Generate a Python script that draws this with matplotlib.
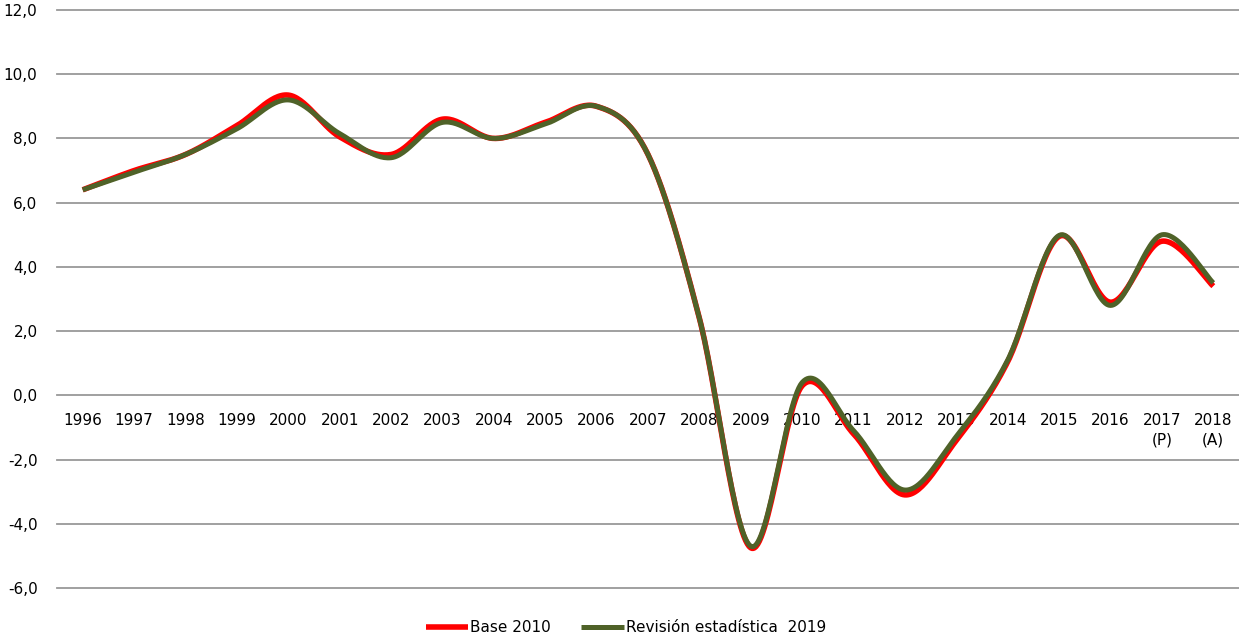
import matplotlib
matplotlib.use("Agg")
import matplotlib.pyplot as plt
import numpy as np
from matplotlib.ticker import FuncFormatter

years = ["1996", "1997", "1998", "1999", "2000", "2001", "2002", "2003",
         "2004", "2005", "2006", "2007", "2008", "2009", "2010", "2011",
         "2012", "2013", "2014", "2015", "2016", "2017\n(P)", "2018\n(A)"]
base_2010 = [6.4, 7.0, 7.5, 8.4, 9.35, 8.05, 7.5, 8.6, 8.0, 8.5, 9.0, 7.5,
             2.4, -4.75, 0.3, -1.2, -3.1, -1.4, 1.05, 4.95, 2.9, 4.8, 3.4]
revision_2019 = [6.4, 6.95, 7.5, 8.3, 9.2, 8.15, 7.4, 8.5, 8.0, 8.45, 9.0,
                 7.5, 2.4, -4.7, 0.4, -1.1, -2.95, -1.28, 1.1, 4.98, 2.8,
                 5.0, 3.5]
series_labels = ["Base 2010", "Revisión estadística  2019"]


def smooth(ys, steps=30):
    # Excel-style smoothed line: Catmull-Rom through each point
    xs = np.arange(len(ys), dtype=float)
    ys = np.asarray(ys, dtype=float)
    px = np.concatenate([[xs[0]], xs, [xs[-1]]])
    py = np.concatenate([[ys[0]], ys, [ys[-1]]])
    out_x, out_y = [], []
    t = np.linspace(0, 1, steps, endpoint=False)
    for i in range(1, len(px) - 2):
        p0 = np.array([px[i], py[i]])
        p3 = np.array([px[i + 1], py[i + 1]])
        c1 = p0 + (p3 - np.array([px[i - 1], py[i - 1]])) / 6
        c2 = p3 - (np.array([px[i + 2], py[i + 2]]) - p0) / 6
        b = ((1 - t) ** 3)[:, None] * p0 + (3 * (1 - t) ** 2 * t)[:, None] * c1 \
            + (3 * (1 - t) * t ** 2)[:, None] * c2 + (t ** 3)[:, None] * p3
        out_x.extend(b[:, 0]); out_y.extend(b[:, 1])
    out_x.append(xs[-1]); out_y.append(ys[-1])
    return np.array(out_x), np.array(out_y)


fig = plt.figure(figsize=(12.39, 6.38), dpi=100)
ax = fig.add_axes([57 / 1239, 1 - 588 / 638, 1 - 57 / 1239, 578 / 638])

ax.set_ylim(-6, 12)
ax.set_xlim(-0.5, len(years) - 0.5)
ax.set_yticks(np.arange(-6, 13, 2))
ax.yaxis.set_major_formatter(FuncFormatter(lambda v, p: f"{v:.1f}".replace(".", ",")))
ax.grid(axis="y", color="#999999", lw=1.3)
for gl in ax.get_ygridlines():
    gl.set_clip_on(False)
ax.set_axisbelow(True)

for s in ax.spines.values():
    s.set_visible(False)
ax.spines["bottom"].set_position(("data", 0))
ax.set_xticks(range(len(years)))
ax.set_xticklabels(years, fontsize=11, va="top", linespacing=1.35)
ax.tick_params(axis="x", length=0, pad=13)
ax.tick_params(axis="y", length=0, pad=14, labelsize=11)

xr, yr = smooth(base_2010)
ax.plot(xr, yr, color="#ff0000", lw=4.0, solid_capstyle="butt", label=series_labels[0])
xg, yg = smooth(revision_2019)
ax.plot(xg, yg, color="#4f6228", lw=3.6, solid_capstyle="butt", label=series_labels[1])

fig.legend(loc="center", bbox_to_anchor=(0.505, 1 - 628 / 638), ncol=2,
           frameon=False, fontsize=11, handlelength=2.8, handletextpad=0.1,
           columnspacing=2.0)

fig.savefig("out.png", dpi=100)
